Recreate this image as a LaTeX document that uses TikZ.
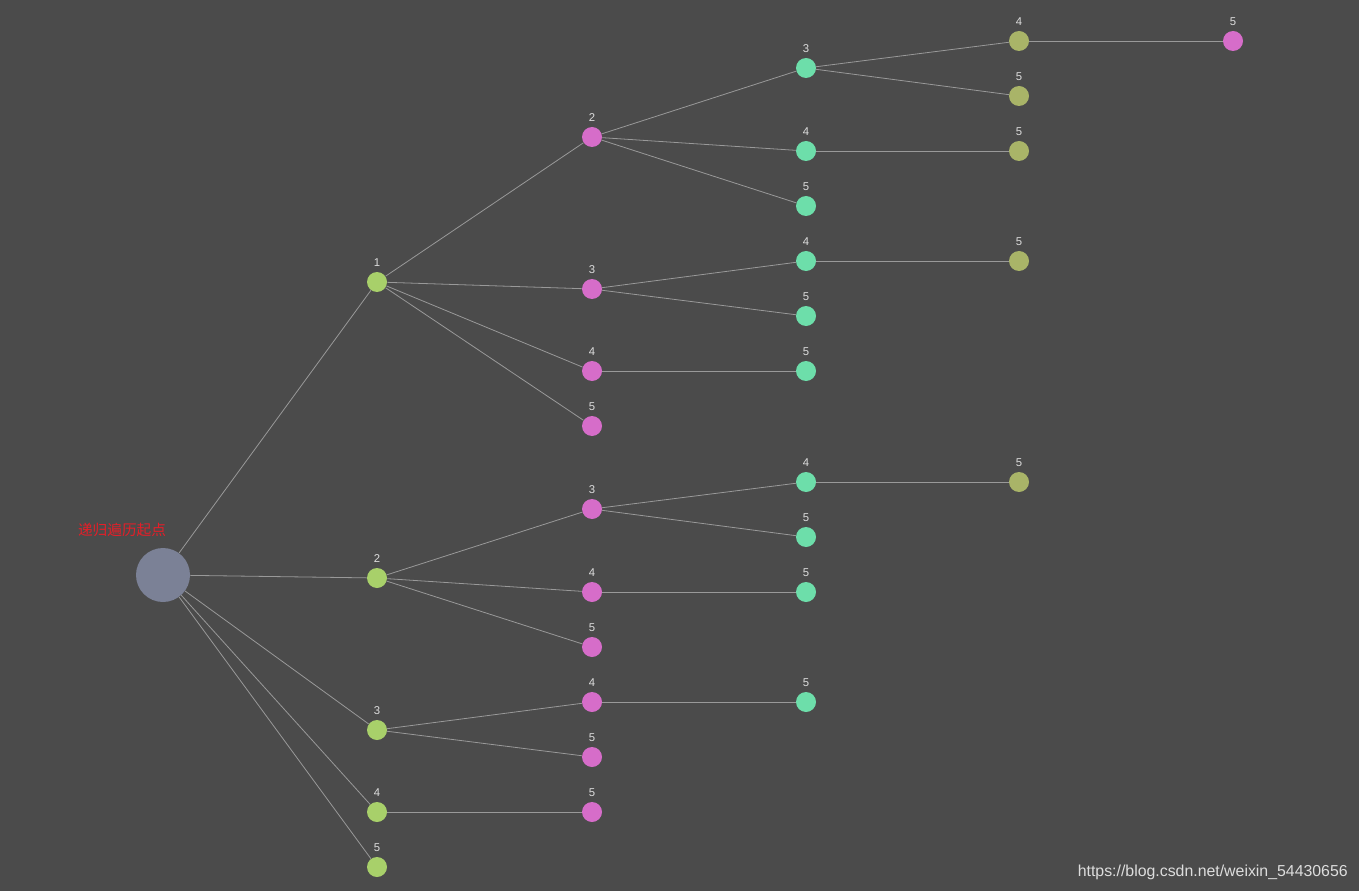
\documentclass[tikz,border=0pt]{standalone}
\usepackage{fontspec}
\setmainfont{Liberation Sans}
\newfontfamily\cjk{Noto Sans CJK SC}
\definecolor{bg}{HTML}{4B4B4B}
\definecolor{rootc}{HTML}{7B8196}
\definecolor{lgreen}{HTML}{A8D06A}
\definecolor{lpink}{HTML}{D66DC9}
\definecolor{lmint}{HTML}{6DDEAA}
\definecolor{lolive}{HTML}{A9B468}
\definecolor{edgec}{HTML}{999999}
\definecolor{lblc}{HTML}{DDDDDD}
\tikzset{
  dot/.style={circle, inner sep=0pt, minimum size=15pt},
  lvA/.style={dot, fill=lgreen},
  lvB/.style={dot, fill=lpink},
  lvC/.style={dot, fill=lmint},
  lvD/.style={dot, fill=lolive},
  lvE/.style={dot, fill=lpink},
  lbl/.style={text=lblc, font=\fontsize{8.5}{10}\selectfont, inner sep=0pt, label distance=3.5pt},
  edge/.style={draw=edgec, line width=0.6pt},
}
\begin{document}
\begin{tikzpicture}[x=0.75pt, y=-0.75pt]
\fill[bg] (0,0) rectangle (1359,891);
\useasboundingbox (0,0) rectangle (1359,891);
% root
\node[circle, fill=rootc, inner sep=0pt, minimum size=40.5pt] (r) at (163,575) {};
\node[text={rgb,255:red,230;green,30;blue,40}, font=\cjk\fontsize{11}{13}\selectfont] (rl) at (122,530) {递归遍历起点};
% level 1
\node[lvA, label={[lbl]above:1}] (n1) at (377,282) {};
\node[lvA, label={[lbl]above:2}] (n2) at (377,578) {};
\node[lvA, label={[lbl]above:3}] (n3) at (377,730) {};
\node[lvA, label={[lbl]above:4}] (n4) at (377,812) {};
\node[lvA, label={[lbl]above:5}] (n5) at (377,867) {};
% level 2
\node[lvB, label={[lbl]above:2}] (n12) at (592,137) {};
\node[lvB, label={[lbl]above:3}] (n13) at (592,289) {};
\node[lvB, label={[lbl]above:4}] (n14) at (592,371) {};
\node[lvB, label={[lbl]above:5}] (n15) at (592,426) {};
\node[lvB, label={[lbl]above:3}] (n23) at (592,509) {};
\node[lvB, label={[lbl]above:4}] (n24) at (592,592) {};
\node[lvB, label={[lbl]above:5}] (n25) at (592,647) {};
\node[lvB, label={[lbl]above:4}] (n34) at (592,702) {};
\node[lvB, label={[lbl]above:5}] (n35) at (592,757) {};
\node[lvB, label={[lbl]above:5}] (n45) at (592,812) {};
% level 3
\node[lvC, label={[lbl]above:3}] (n123) at (806,68) {};
\node[lvC, label={[lbl]above:4}] (n124) at (806,151) {};
\node[lvC, label={[lbl]above:5}] (n125) at (806,206) {};
\node[lvC, label={[lbl]above:4}] (n134) at (806,261) {};
\node[lvC, label={[lbl]above:5}] (n135) at (806,316) {};
\node[lvC, label={[lbl]above:5}] (n145) at (806,371) {};
\node[lvC, label={[lbl]above:4}] (n234) at (806,482) {};
\node[lvC, label={[lbl]above:5}] (n235) at (806,537) {};
\node[lvC, label={[lbl]above:5}] (n245) at (806,592) {};
\node[lvC, label={[lbl]above:5}] (n345) at (806,702) {};
% level 4
\node[lvD, label={[lbl]above:4}] (n1234) at (1019,41) {};
\node[lvD, label={[lbl]above:5}] (n1235) at (1019,96) {};
\node[lvD, label={[lbl]above:5}] (n1245) at (1019,151) {};
\node[lvD, label={[lbl]above:5}] (n1345) at (1019,261) {};
\node[lvD, label={[lbl]above:5}] (n2345) at (1019,482) {};
% level 5
\node[lvE, label={[lbl]above:5}] (n12345) at (1233,41) {};
% edges
\foreach \a/\b in {r/n1,r/n2,r/n3,r/n4,r/n5,
  n1/n12,n1/n13,n1/n14,n1/n15,n2/n23,n2/n24,n2/n25,n3/n34,n3/n35,n4/n45,
  n12/n123,n12/n124,n12/n125,n13/n134,n13/n135,n14/n145,n23/n234,n23/n235,n24/n245,n34/n345,
  n123/n1234,n123/n1235,n124/n1245,n134/n1345,n234/n2345,n1234/n12345}
  \draw[edge] (\a) -- (\b);
% watermark
\node[text=lblc, font=\fontsize{11.9}{13}\selectfont, anchor=east, inner sep=0pt] (wm) at (1348,872) {https://blog.csdn.net/weixin\_54430656};
\end{tikzpicture}
\end{document}
